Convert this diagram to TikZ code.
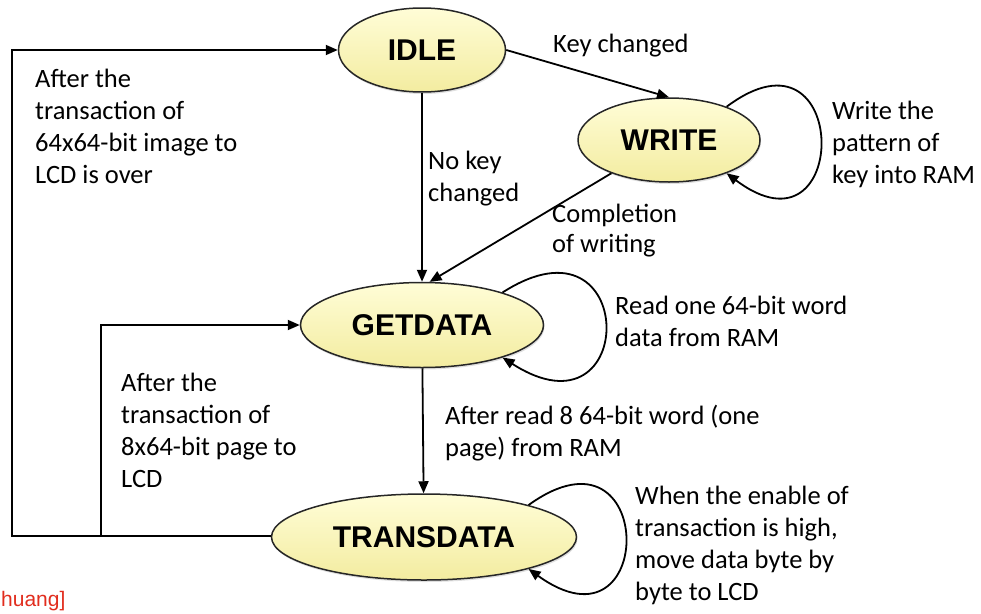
\documentclass[tikz,border=0pt]{standalone}
\usepackage{fontspec}
\setmainfont{Carlito}
\newfontfamily\statefont{Liberation Sans}
\usetikzlibrary{arrows.meta,shapes.geometric,shadows}
\definecolor{elltop}{RGB}{255,253,215}
\definecolor{ellbot}{RGB}{243,236,160}
\definecolor{refred}{RGB}{225,45,30}
\begin{document}
\begin{tikzpicture}[x=1pt,y=-1pt,
  state/.style={ellipse, draw=black!85, line width=1.5pt, top color=elltop, bottom color=ellbot,
    drop shadow={opacity=0.25, shadow xshift=1pt, shadow yshift=-2pt},
    inner sep=0pt, font=\statefont\bfseries\fontsize{30}{32}\selectfont},
  lbl/.style={anchor=north west, align=left, inner sep=0pt, font=\fontsize{26.5}{32}\selectfont},
  conn/.style={line width=1.8pt, -{Triangle[length=12pt,width=10pt]}},
  wire/.style={line width=1.8pt}]
\useasboundingbox (0,0) rectangle (981,613);

\node[state, minimum width=167pt, minimum height=84pt] (idle) at (422,50) {IDLE};
\node[state, minimum width=182pt, minimum height=84pt] (write) at (669,140) {WRITE};
\node[state, minimum width=243pt, minimum height=85pt] (getdata) at (422,325) {GETDATA};
\node[state, minimum width=305pt, minimum height=86pt] (trans) at (424,537) {TRANSDATA};

\coordinate (c1) at (12,536);
\coordinate (c2) at (101,536);

\draw[conn] (idle) -- (getdata);
\draw[conn] (getdata) -- (trans);
\draw[conn] (idle.east) -- (write.north);
\draw[conn] (write.-150) -- (getdata.80);
\draw[conn] (trans.west |- c1) -- (c1) |- (idle.west);
\draw[conn] (c2) |- (getdata.west);

\draw[conn] (write.30) .. controls +(125,-94) and +(125,94) .. (write.-30);
\draw[conn] (getdata.22) .. controls +(137,-88) and +(137,88) .. (getdata.-22);
\draw[conn] (trans.17) .. controls +(129,-93) and +(129,93) .. (trans.-17);

\node[lbl] (l1) at (553,34) {Key changed};
\node[lbl] (l2) at (832,101) {Write the\\pattern of\\key into RAM};
\node[lbl] (l3) at (428,151) {No key\\changed};
\node[lbl, font=\fontsize{26.5}{30}\selectfont] (l4) at (552,204) {Completion\\of writing};
\node[lbl] (l5) at (35,69) {After the\\transaction of\\64x64-bit image to\\LCD is over};
\node[lbl] (l6) at (615,296) {Read one 64-bit word\\data from RAM};
\node[lbl] (l7) at (121,373) {After the\\transaction of\\8x64-bit page to\\LCD};
\node[lbl] (l8) at (445,405) {After read 8 64-bit word (one\\page) from RAM};
\node[lbl] (l9) at (635,486) {When the enable of\\transaction is high,\\move data byte by\\byte to LCD};
\node[anchor=west, inner sep=0pt, text=refred, font=\statefont\fontsize{21}{22}\selectfont] (ref) at (1,601) {huang]};
\end{tikzpicture}
\end{document}
